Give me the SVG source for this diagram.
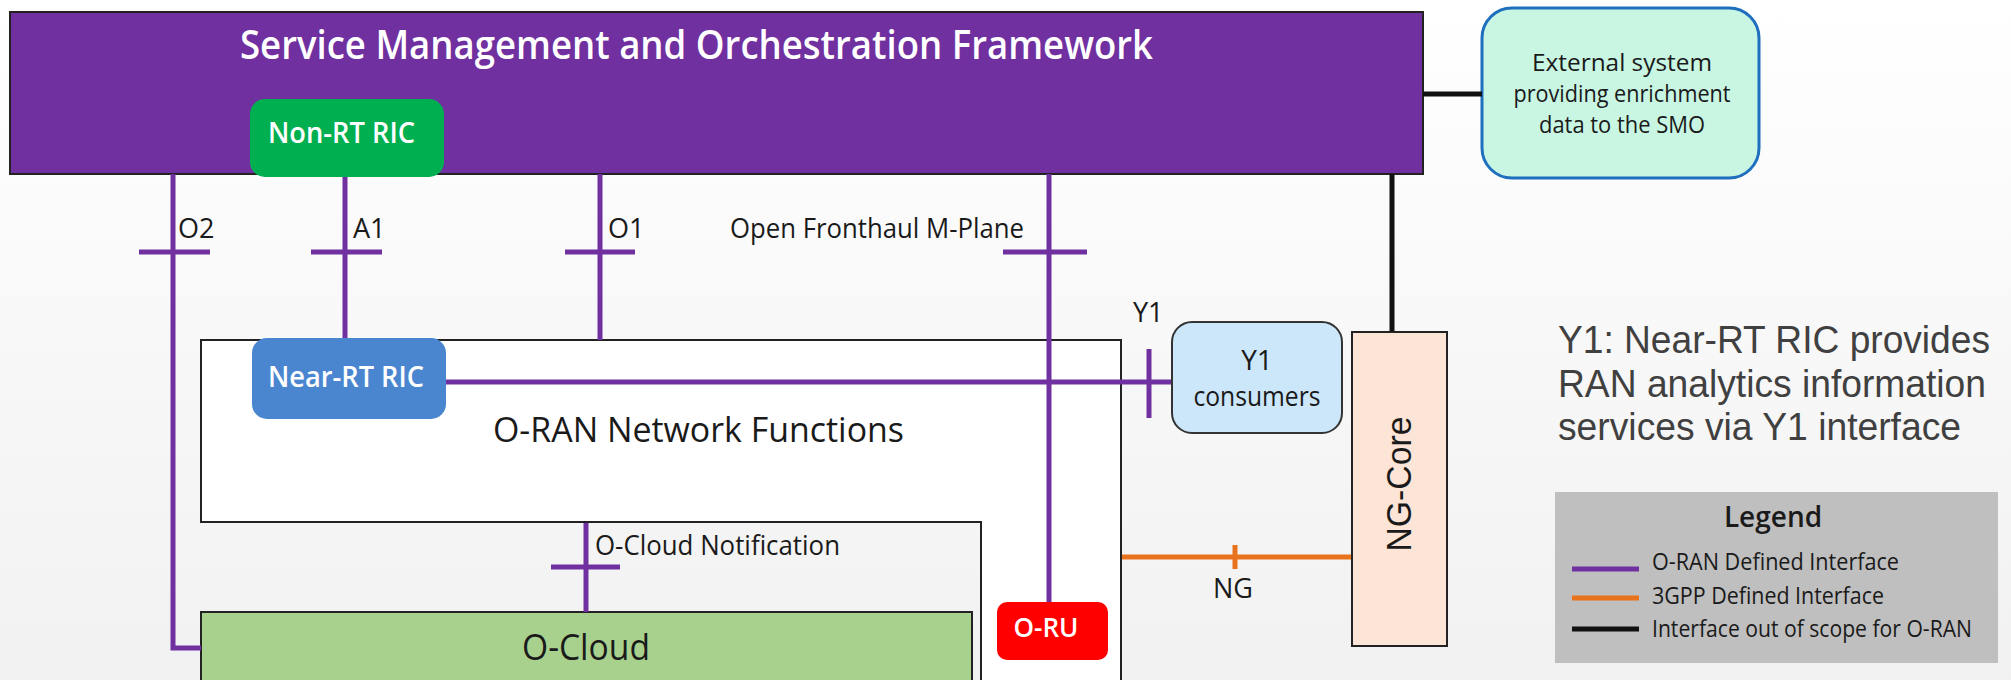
<svg xmlns="http://www.w3.org/2000/svg" width="2011" height="680" viewBox="0 0 2011 680">
<defs>
<linearGradient id="bg" x1="0" y1="0" x2="0" y2="1">
<stop offset="0" stop-color="#ffffff"/>
<stop offset="1" stop-color="#f1f1f1"/>
</linearGradient>
</defs>
<style>
.h{font-family:"Open Sans","Noto Sans","DejaVu Sans",sans-serif;}
.a{font-family:"Liberation Sans",Arial,sans-serif;}
.w{fill:#ffffff;font-weight:600;}
.k{fill:#1a1a1a;}
.box{stroke:#222222;stroke-width:2;}
.oran{stroke:#7030a0;stroke-width:5;fill:none;}
.gpp{stroke:#e9731c;stroke-width:5;fill:none;}
.oos{stroke:#111111;stroke-width:5;fill:none;}
</style>
<rect x="0" y="0" width="2011" height="680" fill="url(#bg)"/>

<g id="smo">
<rect x="10" y="12" width="1413" height="162" fill="#7030a0" class="box"/>
<text x="240" y="59" class="h w" font-size="40" textLength="913" lengthAdjust="spacingAndGlyphs">Service Management and Orchestration Framework</text>
</g>

<g id="external">
<rect x="1482" y="8" width="277" height="170" rx="30" fill="#c9f5e3" stroke="#1f6fbf" stroke-width="3"/>
<text x="1622" y="71" class="h k" font-size="24" text-anchor="middle" textLength="180" lengthAdjust="spacingAndGlyphs">External system</text>
<text x="1622" y="102" class="h k" font-size="24" text-anchor="middle" textLength="217" lengthAdjust="spacingAndGlyphs">providing enrichment</text>
<text x="1622" y="133" class="h k" font-size="24" text-anchor="middle" textLength="166" lengthAdjust="spacingAndGlyphs">data to the SMO</text>
</g>

<g id="oran-nf">
<path d="M981,690 V522 H201 V340 H1121 V690" fill="#ffffff" class="box"/>
<text x="493" y="442" class="h k" font-size="34" textLength="411" lengthAdjust="spacingAndGlyphs">O-RAN Network Functions</text>
</g>

<g id="ocloud">
<rect x="201" y="612" width="771" height="80" fill="#a9d18e" class="box"/>
<text x="586" y="660" class="h k" font-size="37" text-anchor="middle" textLength="128" lengthAdjust="spacingAndGlyphs">O-Cloud</text>
</g>

<g id="connectors">
<path class="oran" d="M173,174 V648 H201"/>
<path class="oran" d="M139,252 H210"/>
<path class="oran" d="M345,177 V338"/>
<path class="oran" d="M311,252 H382"/>
<path class="oran" d="M600,174 V340"/>
<path class="oran" d="M565,252 H635"/>
<path class="oran" d="M1049,174 V602"/>
<path class="oran" d="M1003,252 H1087"/>
<path class="oran" d="M446,382 H1172"/>
<path class="oran" d="M1149,349 V418"/>
<path class="oran" d="M586,523 V612"/>
<path class="oran" d="M551,567 H620"/>
<path class="gpp" d="M1122,557 H1351"/>
<path class="gpp" d="M1235,545 V569" stroke-width="4"/>
<path class="oos" d="M1423,94 H1482"/>
<path class="oos" d="M1392,174 V332" stroke-width="4"/>
<text x="178" y="238" class="h k" font-size="27">O2</text>
<text x="353" y="238" class="h k" font-size="27">A1</text>
<text x="608" y="238" class="h k" font-size="27">O1</text>
<text x="730" y="238" class="h k" font-size="27" textLength="294" lengthAdjust="spacingAndGlyphs">Open Fronthaul M-Plane</text>
<text x="1133" y="322" class="h k" font-size="27">Y1</text>
<text x="595" y="555" class="h k" font-size="27" textLength="245" lengthAdjust="spacingAndGlyphs">O-Cloud Notification</text>
<text x="1233" y="598" class="h k" font-size="27" text-anchor="middle">NG</text>
</g>

<g id="non-rt-ric">
<rect x="250" y="99" width="194" height="78" rx="15" fill="#00b050"/>
<text x="268" y="143" class="h w" font-size="29" textLength="147" lengthAdjust="spacingAndGlyphs">Non-RT RIC</text>
</g>

<g id="near-rt-ric">
<rect x="252" y="338" width="194" height="81" rx="15" fill="#4a86cf"/>
<text x="268" y="387" class="h w" font-size="28" textLength="156" lengthAdjust="spacingAndGlyphs">Near-RT RIC</text>
</g>

<g id="o-ru">
<rect x="997" y="602" width="111" height="58" rx="10" fill="#ff0000"/>
<text x="1046" y="637" class="h w" font-size="27" text-anchor="middle" textLength="65" lengthAdjust="spacingAndGlyphs">O-RU</text>
</g>

<g id="y1-consumers">
<rect x="1172" y="322" width="170" height="111" rx="20" fill="#cce6fa" stroke="#333333" stroke-width="2"/>
<text x="1257" y="370" class="h k" font-size="28" text-anchor="middle">Y1</text>
<text x="1257" y="406" class="h k" font-size="28" text-anchor="middle" textLength="127" lengthAdjust="spacingAndGlyphs">consumers</text>
</g>

<g id="ng-core">
<rect x="1352" y="332" width="95" height="314" fill="#fce4d6" class="box"/>
<text transform="translate(1411,484) rotate(-90)" x="0" y="0" class="a k" font-size="35" text-anchor="middle" textLength="135" lengthAdjust="spacingAndGlyphs">NG-Core</text>
</g>

<g id="y1-note">
<text class="a" font-size="38" fill="#404040">
<tspan x="1558" y="353" textLength="432" lengthAdjust="spacingAndGlyphs">Y1: Near-RT RIC provides</tspan>
<tspan x="1558" y="397" textLength="428" lengthAdjust="spacingAndGlyphs">RAN analytics information</tspan>
<tspan x="1558" y="440" textLength="403" lengthAdjust="spacingAndGlyphs">services via Y1 interface</tspan>
</text>
</g>

<g id="legend">
<rect x="1555" y="492" width="443" height="171" fill="#bfbfbf"/>
<text x="1773" y="527" class="h k" font-size="28" font-weight="600" text-anchor="middle">Legend</text>
<path class="oran" d="M1572,569 H1639"/>
<path class="gpp" d="M1572,598 H1639"/>
<path class="oos" d="M1572,629 H1639"/>
<text x="1652" y="570" class="h k" font-size="24" textLength="247" lengthAdjust="spacingAndGlyphs">O-RAN Defined Interface</text>
<text x="1652" y="604" class="h k" font-size="24" textLength="232" lengthAdjust="spacingAndGlyphs">3GPP Defined Interface</text>
<text x="1652" y="637" class="h k" font-size="24" textLength="320" lengthAdjust="spacingAndGlyphs">Interface out of scope for O-RAN</text>
</g>
</svg>
